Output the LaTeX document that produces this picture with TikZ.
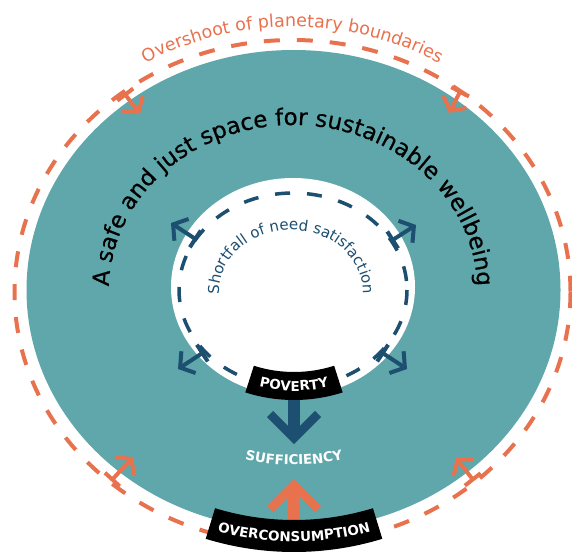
\documentclass[tikz,border=0pt]{standalone}
\usepackage{fontspec}
\setmainfont{DejaVu Sans}
\newfontfamily\heavierfam[FakeBold=0.5]{DejaVu Sans}
\usetikzlibrary{arrows.meta,decorations.text}

\definecolor{ringteal}{HTML}{5FA7AB}
\definecolor{overorange}{HTML}{E8714E}
\definecolor{needblue}{HTML}{1D4F70}

\newcommand{\safefont}{\heavierfam\fontsize{23}{23}\selectfont}
\newcommand{\ringfont}{\fontsize{17.5}{17.5}\selectfont}
\newcommand{\needfont}{\fontsize{15}{15}\selectfont}
\newcommand{\capsfont}{\fontsize{13.5}{13.5}\selectfont\bfseries}

\tikzset{
    bound/.style={overorange, line width=4pt, dash pattern=on 16pt off 17pt},
    floor/.style={needblue, line width=3.5pt, dash pattern=on 15pt off 17pt},
    push/.style={line width=4pt, {Bar[width=20pt]}-{Straight Barb[length=10pt,width=26pt]}},
    shaft/.style={line width=12pt},
    chevron/.style={line width=8.5pt},
    band/.style={fill=black},
    arctext/.style={decorate, decoration={text along path, text align=center}},
}

\begin{document}
\begin{tikzpicture}[x=1pt, y=-1pt]
    \clip (0,0) rectangle (572,556);

    % Outer boundary ring and doughnut
    \draw[bound] (292.5,292) ellipse [x radius=278, y radius=252];
    \fill[ringteal] (293.5,290) ellipse [x radius=267, y radius=240];
    \fill[white] (293,287) ellipse [x radius=122, y radius=109];
    \draw[floor] (293,290) ellipse [x radius=114, y radius=97];

    % Pressure from outside
    \draw[push, overorange] (124,93) -- (140,114);
    \draw[push, overorange] (461,90) -- (449,113);
    \draw[push, overorange] (111,481) -- (133,457);
    \draw[push, overorange] (474,481) -- (456,458);

    % Pressure from inside
    \draw[push, needblue] (197,240) -- (171,223);
    \draw[push, needblue] (391,241) -- (416,225);
    \draw[push, needblue] (204,352) -- (178,369);
    \draw[push, needblue] (381,352) -- (407,369);

    % Big arrows towards the middle
    \draw[shaft, needblue] (294,396) -- (294,436);
    \draw[chevron, needblue] (270,414) -- (294,438) -- (318,414);
    \draw[shaft, overorange] (294,524) -- (294,490);
    \draw[chevron, overorange] (270,509) -- (294,485) -- (318,509);

    % Curved labels
    \path[arctext, decoration={text={|\safefont|A safe and just space for sustainable wellbeing}}]
        (293,290) ++(165:184 and 165) arc[start angle=165, end angle=375, x radius=184, y radius=165];
    \path[arctext, decoration={text={|\ringfont|Overshoot of planetary boundaries}, text color=overorange}]
        (292.5,292) ++(200:291 and 265) arc[start angle=200, end angle=340, x radius=291, y radius=265];
    \path[arctext, decoration={text={|\needfont|Shortfall of need satisfaction}, text color=needblue}]
        (291,292) ++(160:72 and 62) arc[start angle=160, end angle=380, x radius=72, y radius=62];

    \begin{scope}[shift={(294,240)}]
        \fill[band] (107.7:132) arc[start angle=107.7, end angle=72.3, radius=132]
            -- (72.3:160) arc[start angle=72.3, end angle=107.7, radius=160] -- cycle;
        \path[arctext, decoration={text={|\capsfont|POVERTY}, text color=white}]
            (110:151) arc[start angle=110, end angle=70, radius=151];
    \end{scope}

    \begin{scope}[shift={(294,250)}]
        \path[arctext, decoration={text={|\capsfont|SUFFICIENCY}, text color=white}]
            (115:215) arc[start angle=115, end angle=65, radius=215];
        \fill[band] (107:270) arc[start angle=107, end angle=73, radius=270]
            -- (73:302) arc[start angle=73, end angle=107, radius=302] -- cycle;
        \path[arctext, decoration={text={|\capsfont|OVERCONSUMPTION}, text color=white}]
            (110:291.5) arc[start angle=110, end angle=70, radius=291.5];
    \end{scope}
\end{tikzpicture}
\end{document}
